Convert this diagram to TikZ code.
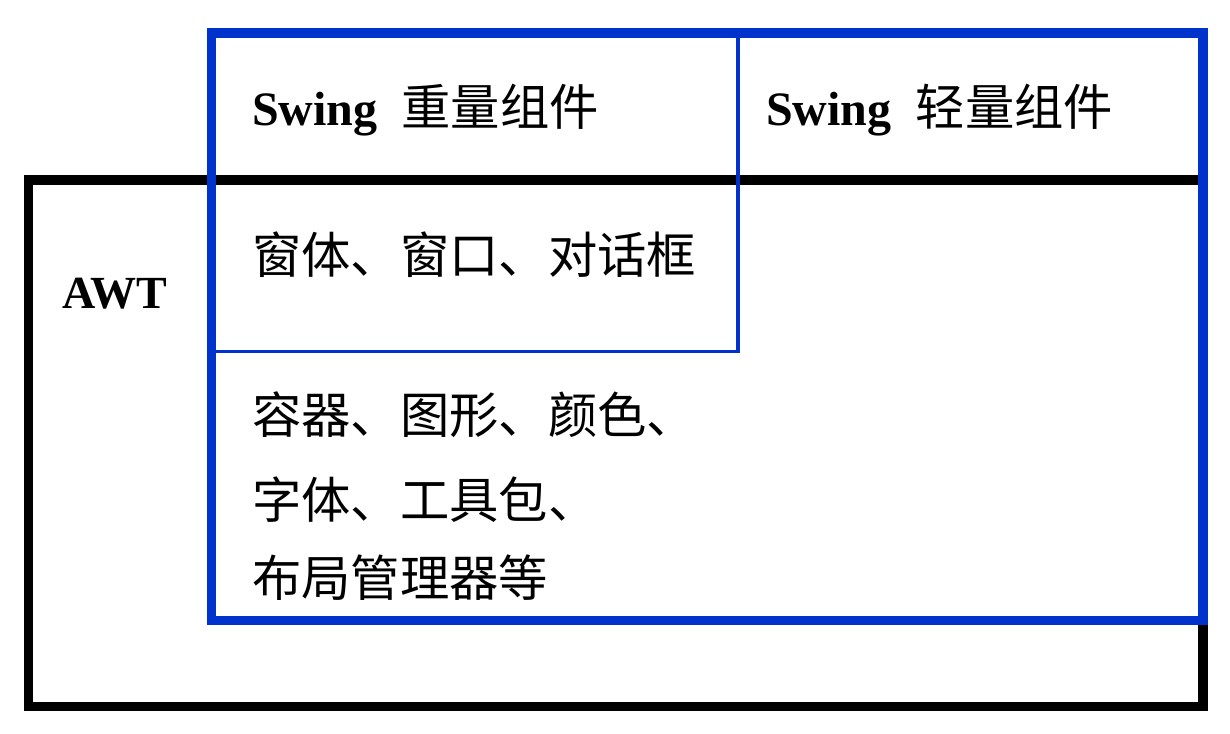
\documentclass[tikz,border=0pt]{standalone}
\usepackage{fontspec}
\setmainfont{Liberation Serif}
\newfontfamily\cjk{Noto Sans CJK SC}
\definecolor{swingblue}{RGB}{0,51,204}
\begin{document}
\begin{tikzpicture}[x=0.75pt,y=-0.75pt,
  lbl/.style={inner sep=0pt,anchor=base west,font=\fontsize{36}{40}\selectfont},
  thick box/.style={line width=7.1pt,line join=miter},
  thin box/.style={line width=2.6pt,draw=swingblue}]
\useasboundingbox (0,0) rectangle (1230,734);
% AWT frame
\draw[thick box,draw=black] (28.5,180) rectangle (1203,706.5);
% heavyweight frame
\draw[thin box] (211.7,351.5) -- (738,351.5) -- (738,33);
% Swing frame
\draw[thick box,draw=swingblue] (211.7,33) rectangle (1203,620.5);
% labels
\node[lbl] (heavy) at (252,126) {\textbf{Swing}\ \ {\cjk\fontsize{37}{40}\selectfont 重量组件}};
\node[lbl] (light) at (766,126) {\textbf{Swing}\ \ {\cjk\fontsize{37}{40}\selectfont 轻量组件}};
\node[lbl,font=\fontsize{34.5}{40}\selectfont\bfseries] (awt) at (62,308) {AWT};
\node[lbl,font=\fontsize{37}{40}\selectfont\cjk] (win) at (252,273) {窗体、窗口、对话框};
\node[lbl,font=\fontsize{37}{40}\selectfont\cjk] (c1) at (252,433) {容器、图形、颜色、};
\node[lbl,font=\fontsize{37}{40}\selectfont\cjk] (c2) at (252,518) {字体、工具包、};
\node[lbl,font=\fontsize{37}{40}\selectfont\cjk] (c3) at (252,596) {布局管理器等};
\end{tikzpicture}
\end{document}
